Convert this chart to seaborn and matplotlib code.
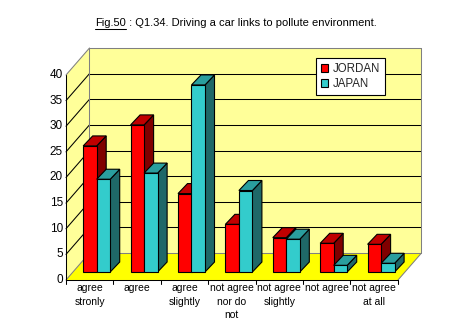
import numpy as np
import pandas as pd
import matplotlib
matplotlib.use("Agg")
import matplotlib.pyplot as plt
from matplotlib.patches import Polygon, Patch
import seaborn as sns

# ---------------- data ----------------
categories = ["agree\nstronly", "agree", "agree\nslightly", "not agree\nnor do\nnot",
              "not agree\nslightly", "not agree", "not agree\nat all"]
jordan = [24.6, 28.7, 15.3, 9.3, 6.7, 5.6, 5.4]
japan = [18.1, 19.3, 36.5, 15.9, 6.4, 1.3, 1.7]
series_names = ["JORDAN", "JAPAN"]
yticks = [0, 5, 10, 15, 20, 25, 30, 35, 40]
title_prefix = "Fig.50"
title_rest = " : Q1.34. Driving a car links to pollute environment."

df = pd.DataFrame({
    "category": categories * 2,
    "value": jordan + japan,
    "country": [series_names[0]] * len(categories) + [series_names[1]] * len(categories),
})

# ---------------- styles ----------------
FRONT = {"JORDAN": "#FF0000", "JAPAN": "#33CCCC"}
TOP = {"JORDAN": "#C00000", "JAPAN": "#2A9E9E"}
SIDE = {"JORDAN": "#800000", "JAPAN": "#1F6868"}
WALL = "#FFFF99"
FLOOR = "#FFFF00"
BORDER = "#808080"
FONT = ["Liberation Sans", "DejaVu Sans"]

sns.set_theme(style="white")
plt.rcParams["font.family"] = FONT

W, H, DPI = 472, 336, 100
fig = plt.figure(figsize=(W / DPI, H / DPI), dpi=DPI)
fig.patch.set_facecolor("white")
ax = fig.add_axes([0, 0, 1, 1])

# geometry (pixels): bar plane
PX_X = 47.4     # pixels per category
PX_Y = 5.125    # pixels per value unit
X0 = 96.7       # pixel x of category 0 centre (bar plane)
Y0 = 272.0      # pixel y of value 0 (bar plane)


def P(px, py):
    return ((px - X0) / PX_X, (Y0 - py) / PX_Y)


def vy(v, plane_y0):
    return plane_y0 - v * PX_Y


# planes
FX_L, FX_R, FY0 = 66.0, 398.0, 280.0          # front
BX_L, BX_R, BY0 = 89.5, 421.5, 253.0          # back
VMAX = 40

# ---- walls and floor ----
side_wall = Polygon([P(FX_L, FY0), P(BX_L, BY0), P(BX_L, vy(VMAX, BY0)), P(FX_L, vy(VMAX, FY0))],
                    closed=True, facecolor=WALL, edgecolor="none", zorder=0.5)
back_wall = Polygon([P(BX_L, BY0), P(BX_R, BY0), P(BX_R, vy(VMAX, BY0)), P(BX_L, vy(VMAX, BY0))],
                    closed=True, facecolor=WALL, edgecolor="none", zorder=0.5)
floor = Polygon([P(FX_L, FY0), P(FX_R, FY0), P(BX_R, BY0), P(BX_L, BY0)],
                closed=True, facecolor=FLOOR, edgecolor="none", zorder=0.6)
for p in (side_wall, back_wall, floor):
    ax.add_patch(p)

lw = 0.75
for v in yticks[1:-1]:
    ax.plot(*zip(P(FX_L, vy(v, FY0)), P(BX_L, vy(v, BY0))), color="black", lw=lw, zorder=0.8)
    ax.plot(*zip(P(BX_L, vy(v, BY0)), P(BX_R, vy(v, BY0))), color="black", lw=lw, zorder=0.8)

# gray borders
border_lines = [
    (P(FX_L, vy(VMAX, FY0)), P(BX_L, vy(VMAX, BY0))),
    (P(BX_L, vy(VMAX, BY0)), P(BX_R, vy(VMAX, BY0))),
    (P(BX_L, vy(VMAX, BY0)), P(BX_L, BY0)),
    (P(BX_R, vy(VMAX, BY0)), P(BX_R, BY0)),
    (P(FX_L, FY0), P(BX_L, BY0)),
    (P(BX_L, BY0), P(BX_R, BY0)),
    (P(FX_R, FY0), P(BX_R, BY0)),
]
for a, b in border_lines:
    ax.plot([a[0], b[0]], [a[1], b[1]], color=BORDER, lw=lw, zorder=0.9)

# front axes
ax.plot(*zip(P(FX_L, FY0), P(FX_L, vy(VMAX, FY0))), color="black", lw=lw, zorder=0.95)
ax.plot(*zip(P(FX_L, FY0), P(FX_R, FY0)), color="black", lw=lw, zorder=0.95)
for k in range(len(categories) + 1):
    xk = FX_L + PX_X * k
    ax.plot(*zip(P(xk, FY0), P(xk, FY0 + 4)), color="black", lw=lw, zorder=0.95)

# ---- bars (front faces by seaborn) ----
sns.barplot(data=df, x="category", y="value", hue="country", order=categories,
            hue_order=series_names, palette=FRONT, saturation=1, width=0.57,
            dodge=True, edgecolor="black", linewidth=0.8, legend=False, ax=ax)

DDX = 9.5 / PX_X
DDY = 10.0 / PX_Y
for si, (name, cont) in enumerate(zip(series_names, ax.containers)):
    base_z = 2 + si * 2
    for rect in cont:
        x0, w, h = rect.get_x(), rect.get_width(), rect.get_height()
        rect.set_zorder(base_z + 0.5)
        top = Polygon([(x0, h), (x0 + w, h), (x0 + w + DDX, h + DDY), (x0 + DDX, h + DDY)],
                      closed=True, facecolor=TOP[name], edgecolor="black", lw=0.8, zorder=base_z)
        side = Polygon([(x0 + w, 0), (x0 + w + DDX, DDY), (x0 + w + DDX, h + DDY), (x0 + w, h)],
                       closed=True, facecolor=SIDE[name], edgecolor="black", lw=0.8, zorder=base_z)
        ax.add_patch(side)
        ax.add_patch(top)

# ---- limits ----
ax.set_xlim((0 - X0) / PX_X, (W - X0) / PX_X)
ax.set_ylim((Y0 - H) / PX_Y, (Y0 - 0) / PX_Y)
ax.axis("off")

# ---- tick labels ----
for v in yticks:
    x, y = P(FX_L - 3, vy(v, FY0))
    ax.text(x, y, str(v), ha="right", va="center", fontsize=8.5, color="black", zorder=5)

for i, lab in enumerate(categories):
    x, y = P(FX_L + PX_X * (i + 0.5), 283)
    ax.text(x, y, lab, ha="center", va="top", fontsize=7.5, linespacing=1.45,
            color="black", zorder=5)

# ---- title with underlined prefix ----
renderer = fig.canvas.get_renderer()
t_rest = fig.text(0, 0, title_rest, fontsize=8, color="black")
t_pre = fig.text(0, 0, title_prefix, fontsize=8, color="black")
w_rest = t_rest.get_window_extent(renderer).width
w_pre = t_pre.get_window_extent(renderer).width
total = w_rest + w_pre
x_start = 236 - total / 2
ty = 1 - 23 / H
t_pre.set_position((x_start / W, ty))
t_pre.set_va("center")
t_rest.set_position(((x_start + w_pre) / W, ty))
t_rest.set_va("center")
fig.add_artist(plt.Line2D([x_start / W, (x_start + w_pre) / W], [1 - 28.5 / H] * 2,
                          color="black", lw=0.75))

# ---- legend ----
handles = [Patch(facecolor=FRONT[n], edgecolor="black", linewidth=0.8, label=n) for n in series_names]
leg = ax.legend(handles=handles, loc="upper left", bbox_to_anchor=(316 / W, 1 - 58 / H),
                bbox_transform=fig.transFigure, fontsize=8.3, handlelength=0.65, handleheight=0.65,
                handletextpad=0.35, borderpad=0.42, labelspacing=0.3, borderaxespad=0,
                frameon=True, fancybox=False)
leg.get_frame().set_edgecolor("black")
leg.get_frame().set_linewidth(0.8)
leg.get_frame().set_facecolor("white")
leg.get_frame().set_alpha(1)
leg.set_zorder(10)

fig.savefig("out.png", dpi=DPI, facecolor="white")
